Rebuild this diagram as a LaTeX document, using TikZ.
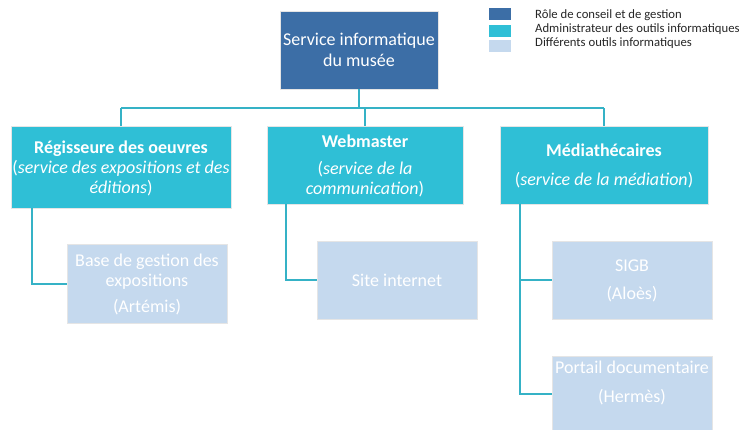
\documentclass[tikz,border=0pt]{standalone}
\usepackage{fontspec}
\setmainfont{Carlito}
\definecolor{darkb}{HTML}{3C6EA6}
\definecolor{cyanb}{HTML}{2FBFD6}
\definecolor{lightb}{HTML}{C5D9EE}
\definecolor{conn}{HTML}{35B2C6}
\tikzset{
  boxbase/.style={rectangle, draw=white!80!gray, line width=0.6pt, inner sep=0pt, align=center, text=white},
  topbox/.style={boxbase, fill=darkb, font=\fontsize{18}{21}\selectfont},
  midbox/.style={boxbase, fill=cyanb, font=\fontsize{18}{20}\selectfont},
  toolbox/.style={boxbase, fill=lightb, font=\fontsize{18}{20}\selectfont},
  link/.style={draw=conn, line width=2pt},
  legsq/.style={rectangle, inner sep=0pt, minimum width=22pt, minimum height=12pt},
  legtxt/.style={anchor=west, inner sep=0pt, font=\fontsize{12.7}{14}\selectfont, text=black!85}
}
\begin{document}
\begin{tikzpicture}[x=1pt,y=-1pt]
\useasboundingbox (0,0) rectangle (743,429);
\clip (0,0) rectangle (743,429);
% legend
\node[legsq, fill=darkb] (l1) at (500,14) {};
\node[legsq, fill=cyanb] (l2) at (500,30.5) {};
\node[legsq, fill=lightb] (l3) at (500,46) {};
\node[legtxt] (t1) at (535,15.5) {Rôle de conseil et de gestion};
\node[legtxt] (t2) at (535,29.5) {Administrateur des outils informatiques};
\node[legtxt] (t3) at (535,43.5) {Différents outils informatiques};
% top
\node[topbox, minimum width=158pt, minimum height=78pt, text depth=-4pt] (top) at (359,50) {Service informatique\\du musée};
% level 1
\node[midbox, minimum width=220pt, minimum height=82pt, text depth=-0.5pt] (reg) at (121,167) {\textbf{Régisseure des oeuvres}\\(\textit{service des expositions et des}\\\textit{éditions})};
\node[midbox, minimum width=196pt, minimum height=78pt, text depth=-2.5pt] (web) at (365,165) {\textbf{Webmaster}\\[7pt](\textit{service de la}\\\textit{communication})};
\node[midbox, minimum width=208pt, minimum height=78pt, text depth=-3.5pt] (med) at (604,165) {\textbf{Médiathécaires}\\[9pt](\textit{service de la médiation})};
% level 2
\node[toolbox, minimum width=160pt, minimum height=79pt, text depth=-1.5pt] (base) at (147,283.5) {Base de gestion des\\expositions\\[6pt](Artémis)};
\node[toolbox, minimum width=160pt, minimum height=78pt] (site) at (397,280) {Site internet};
\node[toolbox, minimum width=160pt, minimum height=78pt, text depth=-0.5pt] (sigb) at (632,280) {SIGB\\[8pt](Aloès)};
\node[toolbox, minimum width=160pt, minimum height=80pt] (port) at (632,396) {};
\node[align=center, text=white, inner sep=0pt, font=\fontsize{18}{20}\selectfont] (porttxt) at (632,382.5) {Portail documentaire\\[9pt](Hermès)};
% connectors
\coordinate (bus) at (0,108);
\draw[link] (top.south) -- (top.south |- bus);
\draw[link] (reg.north |- bus) -- (med.north |- bus);
\draw[link] (reg.north |- bus) -- (reg.north);
\draw[link] (web.north |- bus) -- (web.north);
\draw[link] (med.north |- bus) -- (med.north);
\draw[link] (32,0 |- reg.south) -- (32,284) -- (base.west |- 0,284);
\draw[link] (286,0 |- web.south) -- (286,280) -- (site.west);
\draw[link] (520,0 |- med.south) -- (520,394) -- (port.west |- 0,394);
\draw[link] (520,280) -- (sigb.west);
\end{tikzpicture}
\end{document}
